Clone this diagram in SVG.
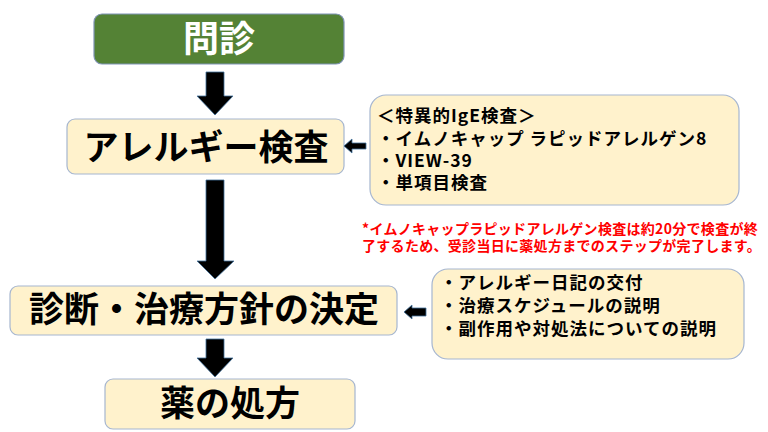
<svg xmlns="http://www.w3.org/2000/svg" width="768" height="432" viewBox="0 0 768 432">
<style>
.box{fill:#FFF2CC;stroke:#A6B6D0;stroke-width:1.2}
.green{fill:#548235;stroke:#7F93B5;stroke-width:1.2}
.arr{fill:#000;stroke:#41719C;stroke-width:0.8}
text{font-family:"Noto Sans CJK JP","Noto Sans",sans-serif;font-weight:700}
.big{font-size:35px;text-anchor:middle;fill:#000}
.side{font-size:17.5px;fill:#000;letter-spacing:1px}
.note{font-size:14px;fill:#FF0000;letter-spacing:0.3px}
</style>
<rect width="768" height="432" fill="#fff"/>
<g id="node-monshin">
<rect class="green" x="94" y="14" width="250" height="50" rx="8"/>
<text class="big" x="219" y="52" style="fill:#fff;font-size:36px">問診</text>
</g>
<g id="node-allergy-test">
<rect class="box" x="67" y="119" width="277" height="55" rx="8"/>
<text class="big" x="206" y="160">アレルギー検査</text>
</g>
<g id="node-diagnosis">
<rect class="box" x="10" y="286" width="387" height="49" rx="8"/>
<text class="big" x="204" y="322">診断・治療方針の決定</text>
</g>
<g id="node-prescription">
<rect class="box" x="105" y="379" width="250" height="50" rx="8"/>
<text class="big" x="230" y="416">薬の処方</text>
</g>
<g id="node-ige">
<rect class="box" x="370" y="95" width="369" height="110" rx="16"/>
<text class="side" x="377" y="122">＜特異的IgE検査＞</text>
<text class="side" x="377" y="145">・イムノキャップ ラピッドアレルゲン8</text>
<text class="side" x="377" y="167">・VIEW-39</text>
<text class="side" x="377" y="189">・単項目検査</text>
</g>
<g id="node-explain">
<rect class="box" x="432" y="269" width="312" height="90" rx="16"/>
<text class="side" x="440" y="289">・アレルギー日記の交付</text>
<text class="side" x="440" y="312">・治療スケジュールの説明</text>
<text class="side" x="440" y="335">・副作用や対処法についての説明</text>
</g>
<g id="note">
<text class="note" x="362" y="234">*イムノキャップラピッドアレルゲン検査は約20分で検査が終</text>
<text class="note" x="362" y="251">了するため、受診当日に薬処方までのステップが完了します。</text>
</g>
<g id="connectors">
<polygon class="arr" points="206,72 224,72 224,96 233,96 215,115 197,96 206,96"/>
<polygon class="arr" points="206,180 224,180 224,261 234,261 215,279 197,261 206,261"/>
<polygon class="arr" points="206,339 224,339 224,358 233,358 215,377 197,358 206,358"/>
<polygon class="arr" points="366,143 366,149 352,149 352,153 344,146 352,139 352,143"/>
<polygon class="arr" points="426,308 426,316 412,316 412,319 404,312 412,305 412,308"/>
</g>
</svg>
